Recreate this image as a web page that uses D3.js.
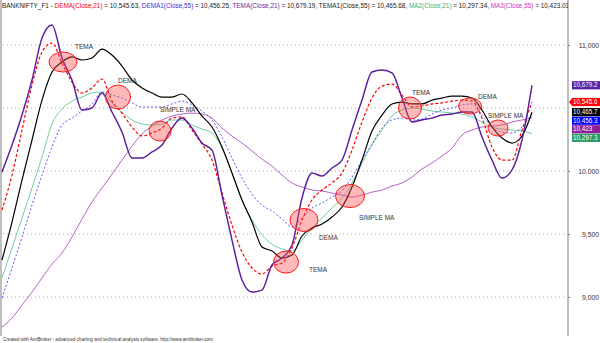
<!DOCTYPE html>
<html>
<head>
<meta charset="utf-8">
<script src="https://cdn.jsdelivr.net/npm/d3@7"></script>
<style>
  body { margin: 0; background: #fff; }
  svg { display: block; font-family: "Liberation Sans", Arial, sans-serif; }
</style>
</head>
<body>
<svg width="600" height="343"></svg>
<script>
// values, one per bar (54 bars, left to right)
var tema21 = [9992,10206,10444,10722,11055,11159,10897,10722,10484,10500,10619,10468,10309,10103,10103,10151,10206,10341,10420,10341,10222,10166,9809,9452,9135,9039,9055,9254,9309,9412,9786,9984,9960,10024,10087,10325,10563,10786,10801,10778,10579,10389,10405,10420,10444,10452,10468,10468,10270,10087,9944,10008,10246,10679];
var dema21 = [9690,9968,10325,10682,10944,11016,10857,10706,10619,10659,10730,10555,10460,10349,10278,10301,10341,10420,10428,10325,10214,10087,9825,9571,9357,9230,9182,9246,9270,9389,9611,9770,9849,9905,9984,10166,10389,10579,10674,10690,10603,10508,10516,10532,10540,10555,10563,10555,10420,10190,10087,10087,10325,10546];
var tema55 = [9293,9595,9928,10246,10563,10786,10865,10905,10881,10897,10968,10920,10833,10722,10659,10619,10587,10587,10611,10540,10436,10349,10190,9984,9770,9595,9397,9365,9309,9333,9484,9547,9579,9635,9714,9873,10087,10317,10444,10532,10547,10532,10532,10563,10579,10595,10595,10579,10484,10349,10262,10222,10278,10466];
var dema55 = [8992,9230,9476,9730,9968,10190,10365,10420,10476,10532,10627,10603,10579,10540,10508,10508,10508,10532,10555,10524,10476,10405,10270,10103,9944,9817,9730,9682,9619,9555,9627,9706,9746,9793,9841,9952,10087,10214,10341,10405,10420,10405,10412,10452,10484,10500,10524,10532,10444,10349,10309,10301,10349,10456];
var ma21 = [9151,9389,9627,9865,10111,10373,10492,10555,10587,10619,10627,10540,10468,10405,10373,10365,10373,10405,10405,10365,10333,10301,10182,9984,9770,9611,9492,9420,9381,9365,9452,9547,9627,9706,9786,9905,10063,10206,10325,10436,10484,10500,10492,10476,10468,10460,10452,10428,10389,10349,10333,10325,10317,10297];
var ma55 = [8762,8833,8936,9039,9151,9262,9349,9476,9619,9754,9865,9976,10087,10198,10293,10357,10405,10436,10452,10460,10452,10420,10341,10278,10222,10159,10095,10039,9968,9905,9873,9849,9841,9825,9809,9793,9809,9833,9849,9881,9905,9952,10016,10063,10119,10182,10286,10325,10349,10357,10365,10389,10405,10423];

var gridVals = [9000, 9500, 10000, 10500, 11000];
var tickVals = [9000, 9500, 10000, 11000]; // 10,500 sits under the value tags
var lastLabels = ["10,679.2", "10,545.6", "10,465.7", "10,456.3", "10,423", "10,297.3"];

// annotation circles: bar index, price, label
var marks = [
  {i: 6.1, v: 10865, t: "TEMA"}, {i: 11.6, v: 10587, t: "DEMA"}, {i: 15.8, v: 10317, t: "SIMPLE MA"},
  {i: 28.4, v: 9277, t: "TEMA"}, {i: 30.2, v: 9611, t: "DEMA"}, {i: 34.8, v: 9801, t: "SIMPLE MA"},
  {i: 40.8, v: 10500, t: "TEMA"}, {i: 46.8, v: 10516, t: "DEMA"}, {i: 49.6, v: 10341, t: "SIMPLE MA"}
];
var markSize = [[14,10],[12.5,12],[11,10],[12.5,11],[14,11.5],[14.5,11.5],[11.5,11],[11.5,8],[10,8]];
var markText = [[75,49],[118,83],[160,112],[309,272],[319,240],[359,220],[412,95],[478,99],[488,118]];

var svg = d3.select("svg");
var x = d3.scaleLinear().domain([0, tema21.length - 1]).range([2, 532]);
var y = d3.scaleLinear().domain([9000, 11000]).range([297, 45]);

// grid
svg.append("g").selectAll("line").data(gridVals).join("line")
  .attr("x1", 3).attr("x2", 566)
  .attr("y1", d => y(d)).attr("y2", d => y(d))
  .attr("stroke", "#aaa").attr("stroke-dasharray", "1,3");

// right axis
var ax = svg.append("g").attr("transform", "translate(568,0)")
  .call(d3.axisRight(y).tickValues(tickVals).tickSize(2).tickFormat(d3.format(",")));
ax.select(".domain").remove();
ax.selectAll("line").attr("stroke", "#555");
ax.selectAll("text").attr("x", 31).attr("text-anchor", "end")
  .attr("font-size", 6.8).attr("fill", "#333").attr("font-family", "Liberation Sans, Arial");
svg.append("line").attr("x1", 568).attr("x2", 568).attr("y1", 0).attr("y2", 336)
  .attr("stroke", "#aaa").attr("stroke-width", 1.5);
svg.append("line").attr("x1", 1).attr("x2", 1).attr("y1", 0).attr("y2", 336)
  .attr("stroke", "#aaa").attr("stroke-width", 1.5);

var line = d3.line().x((d, i) => x(i)).y(d => y(d)).curve(d3.curveMonotoneX);

var series = [
  {d: ma55, c: "#b565c8", w: 1, dash: null},
  {d: ma21, c: "#72cfa0", w: 1, dash: null},
  {d: dema55, c: "#5b5bff", w: 1, dash: "2,2"},
  {d: tema55, c: "#000", w: 1.2, dash: null},
  {d: dema21, c: "#ff0000", w: 1.2, dash: "3,2"},
  {d: tema21, c: "#5a1f9e", w: 1.45, dash: null}
];
svg.append("g").selectAll("path").data(series).join("path")
  .attr("d", s => line(s.d))
  .attr("fill", "none")
  .attr("stroke", s => s.c)
  .attr("stroke-width", s => s.w)
  .attr("stroke-dasharray", s => s.dash);

// circles + labels
svg.append("g").selectAll("ellipse").data(marks).join("ellipse")
  .attr("cx", d => x(d.i)).attr("cy", d => y(d.v))
  .attr("rx", (d, i) => markSize[i][0]).attr("ry", (d, i) => markSize[i][1])
  .attr("fill", "rgba(255,70,70,0.38)").attr("stroke", "#ff1a1a").attr("stroke-width", 1);
svg.append("g").selectAll("text").data(marks).join("text")
  .attr("x", (d, i) => markText[i][0]).attr("y", (d, i) => markText[i][1])
  .attr("font-size", 6.5).attr("fill", "#333").text(d => d.t);

// last value tags on the axis
var tags = [
  {v: tema21[tema21.length - 1], c: "#5a1f9e"},
  {v: dema21[dema21.length - 1], c: "#ff0000", arrow: true},
  {v: tema55[tema55.length - 1], c: "#000"},
  {v: dema55[dema55.length - 1], c: "#0000ff"},
  {v: ma55[ma55.length - 1], c: "#8e1e9a"},
  {v: ma21[ma21.length - 1], c: "#2e9960"}
];
tags.forEach((t, i) => { t.label = lastLabels[i]; t.top = y(t.v) - 4.3; });
var prev = -100;
tags.forEach(t => { if (t.top < prev + 8.6) t.top = prev + 8.6; prev = t.top; });
var tg = svg.append("g").selectAll("g").data(tags).join("g")
  .attr("transform", d => "translate(572," + d.top + ")");
tg.append("rect").attr("width", 30).attr("height", 8.2).attr("fill", d => d.c);
tg.filter(d => d.arrow).append("path").attr("d", "M-3,4L0,0.5L0,7.5Z").attr("fill", d => d.c);
tg.append("text").attr("x", 1).attr("y", 6.3).attr("font-size", 6.3).attr("fill", "#fff").text(d => d.label);

// title
svg.append("clipPath").attr("id", "tc").append("rect").attr("width", 568).attr("height", 12);
var title = svg.append("text").attr("clip-path", "url(#tc)").attr("x", 2).attr("y", 8)
  .attr("font-size", 6.4).attr("fill", "#222");
var parts = [
  ["BANKNIFTY_F1 - ", "#222"], ["DEMA(Close,21)", "#ff0000"], [" = 10,545.63, ", "#222"],
  ["DEMA1(Close,55)", "#3333dd"], [" = 10,456.25, ", "#222"],
  ["TEMA(Close,21)", "#6a1fa8"], [" = 10,679.19, ", "#222"],
  ["TEMA1(Close,55)", "#222"], [" = 10,465.68, ", "#222"],
  ["MA2(Close,21)", "#3bb07a"], [" = 10,297.34, ", "#222"],
  ["MA3(Close,55)", "#cc33cc"], [" = 10,423.03", "#222"]
];
title.selectAll("tspan").data(parts).join("tspan").attr("fill", d => d[1]).text(d => d[0]);

svg.append("text").attr("x", 3).attr("y", 341).attr("font-size", 4.6).attr("fill", "#333")
  .text("Created with AmiBroker - advanced charting and technical analysis software. http://www.amibroker.com");
</script>
</body>
</html>
